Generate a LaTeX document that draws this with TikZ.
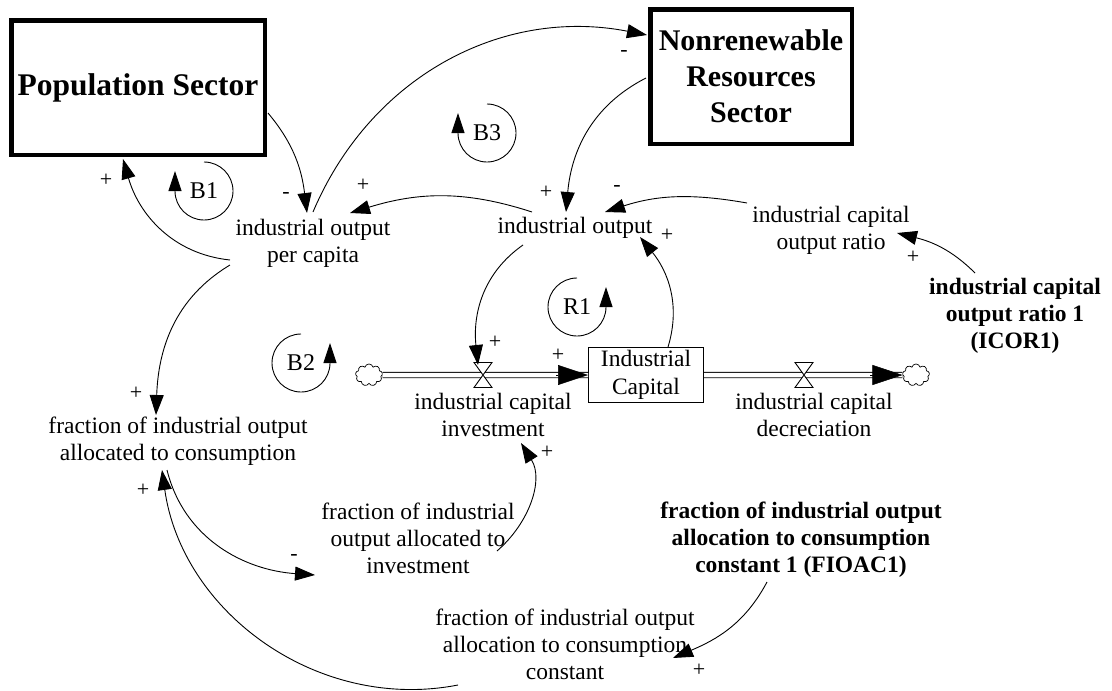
\documentclass[tikz,border=0pt]{standalone}
\usepackage{fontspec}
\setmainfont{Liberation Serif}
\usetikzlibrary{arrows.meta,calc,shapes.symbols}
\begin{document}
\begin{tikzpicture}[x=1pt,y=1pt,
 var/.style={font=\fontsize{23.5}{27}\selectfont, align=center, inner sep=0pt},
 bvar/.style={font=\bfseries\fontsize{23.5}{27}\selectfont, align=center, inner sep=0pt},
 sector/.style={draw, line width=4.5pt, font=\bfseries\fontsize{30}{36}\selectfont, align=center, inner sep=0pt},
 stockbox/.style={draw, line width=1pt, minimum width=115pt, minimum height=55pt, inner sep=0pt, font=\fontsize{23.5}{28}\selectfont, align=center},
 conn/.style={line width=0.9pt, -{Triangle[length=20pt,width=14pt]}},
 pol/.style={font=\fontsize{22}{22}\selectfont, inner sep=0pt},
 looplab/.style={font=\fontsize{24}{24}\selectfont, inner sep=0pt},
 looparrow/.style={line width=0.9pt, -{Triangle[length=20pt,width=13pt]}},
 pipe/.style={double, double distance=4.5pt, line width=0.9pt},
 flowtip/.style={line width=0.5pt, -{Triangle[length=30pt,width=20pt]}},
 valve/.style={fill=white, line width=0.9pt},
 cloudnode/.style={cloud, cloud puffs=9, draw, line width=0.7pt, minimum width=27pt, minimum height=22pt, inner sep=0pt, aspect=1.2}
]
\useasboundingbox[fill=white] (0,0) rectangle (1112,-691);

% sectors and stock
\node[sector, minimum width=253.5pt, minimum height=134.5pt, font=\bfseries\fontsize{31.5}{36}\selectfont] (pop) at (138,-87.5) {Population Sector};
\node[sector, minimum width=201.5pt, minimum height=134.5pt] (nr) at (751,-76.5) {Nonrenewable\\Resources\\Sector};
\node[stockbox] (stock) at (646,-375) {Industrial\\Capital};

% variables
\node[var] (iopc) at (313,-243.5) {industrial output\\per capita};
\node[var] (io) at (575,-228) {industrial output};
\node[var] (icor) at (831,-230) {industrial capital\\output ratio};
\node[bvar] (icor1) at (1015,-316) {industrial capital\\output ratio 1\\(ICOR1)};
\node[var] (ici) at (493,-415) {industrial capital\\investment};
\node[var] (icd) at (814,-415) {industrial capital\\decreciation};
\node[var] (fioacons) at (178,-441) {fraction of industrial output\\allocated to consumption};
\node[var] (fioai) at (418,-538) {fraction of industrial\\output allocated to\\investment};
\node[var] (fioaconst) at (565,-644) {fraction of industrial output\\allocation to consumption\\constant};
\node[bvar] (fioac1) at (801,-540) {fraction of industrial output\\allocation to consumption\\constant 1 (FIOAC1)};

% flows
\node[cloudnode] (cloudL) at (369,-375) {};
\node[cloudnode] (cloudR) at (916,-375) {};
\coordinate (vInv) at (483,-375);
\coordinate (vDep) at (804,-375);
\draw[pipe] (cloudL.east) -- (stock.west);
\draw[flowtip] ($(stock.west)+(-32,0)$) -- (stock.west);
\draw[pipe] (stock.east) -- (cloudR.west);
\draw[flowtip] ($(cloudR.west)+(-32,0)$) -- (cloudR.west);
\draw[valve] ($(vInv)+(-9,12.5)$) -- ($(vInv)+(9,12.5)$) -- ($(vInv)+(-9,-12.5)$) -- ($(vInv)+(9,-12.5)$) -- cycle;
\draw[valve] ($(vDep)+(-9,12.5)$) -- ($(vDep)+(9,12.5)$) -- ($(vDep)+(-9,-12.5)$) -- ($(vDep)+(9,-12.5)$) -- cycle;

% connectors
\draw[conn] ($(pop.center)+(130,-25.5)$) to[out=-50,in=97] ($(iopc.center)+(-6,30.5)$);
\draw[conn] ($(iopc.center)+(-83,-16.5)$) to[out=174,in=-74] ($(pop.center)+(-15,-71.5)$);
\draw[conn] ($(iopc.center)+(0,31.5)$) to[out=67,in=169] ($(nr.center)+(-104,41.5)$);
\draw[conn] ($(nr.center)+(-105,-1.5)$) to[out=207,in=85] ($(io.center)+(-9,16)$);
\draw[conn] ($(io.center)+(-43,16)$) to[out=162,in=17] ($(iopc.center)+(37,30.5)$);
\draw[conn] ($(icor.center)+(-84,27)$) to[out=170,in=18] ($(io.center)+(30,16)$);
\draw[conn] ($(icor1.center)+(-40,43)$) to[out=135,in=-14] ($(icor.center)+(66,-3)$);
\draw[conn] ($(stock.north)+(22,0)$) to[out=73,in=-51] ($(io.center)+(65,-9)$);
\draw[conn] ($(io.center)+(-52,-17)$) to[out=215,in=96] ($(vInv)+(-5,10)$);
\draw[conn] ($(iopc.center)+(-83,-21.5)$) to[out=211,in=88] ($(fioacons.center)+(-22,26)$);
\draw[conn] ($(fioacons.center)+(-11,-29)$) to[out=-76,in=176] ($(fioai.center)+(-103,-37)$);
\draw[conn] ($(fioai.center)+(79,-13)$) to[out=41,in=-58] ($(ici.center)+(28,-28)$);
\draw[conn] ($(fioac1.center)+(-34,-42)$) to[out=242,in=23] ($(fioaconst.center)+(108,-14)$);
\draw[conn] ($(fioaconst.center)+(-107,-41)$) to[out=191,in=-82] ($(fioacons.center)+(-16,-29)$);

% loops
\node[looplab] (b1) at (204,-191) {B1};
\draw[looparrow] ($(b1)+(0,29)$) arc[start angle=90,end angle=-180,radius=29pt] -- ++(0,20);
\node[looplab] (b3) at (487,-133) {B3};
\draw[looparrow] ($(b3)+(0,29)$) arc[start angle=90,end angle=-180,radius=29pt] -- ++(0,20);
\node[looplab] (b2) at (301,-363) {B2};
\draw[looparrow] ($(b2)+(0,29)$) arc[start angle=90,end angle=360,radius=29pt] -- ++(0,20);
\node[looplab] (r1) at (577,-307) {R1};
\draw[looparrow] ($(r1)+(0,29)$) arc[start angle=90,end angle=360,radius=29pt] -- ++(0,20);

% polarities
\node[pol] (s1) at (286,-195) {-};
\node[pol] (s2) at (106,-180) {+};
\node[pol] (s3) at (363,-185) {+};
\node[pol] (s4) at (624,-53) {-};
\node[pol] (s5) at (546,-192) {+};
\node[pol] (s6) at (617,-188) {-};
\node[pol] (s7) at (667,-235) {+};
\node[pol] (s8) at (913,-257) {+};
\node[pol] (s9) at (495,-342) {+};
\node[pol] (s10) at (558,-355) {+};
\node[pol] (s11) at (136,-393) {+};
\node[pol] (s12) at (294,-557) {-};
\node[pol] (s13) at (547,-452) {+};
\node[pol] (s14) at (143,-490) {+};
\node[pol] (s15) at (699,-670) {+};
\end{tikzpicture}
\end{document}
